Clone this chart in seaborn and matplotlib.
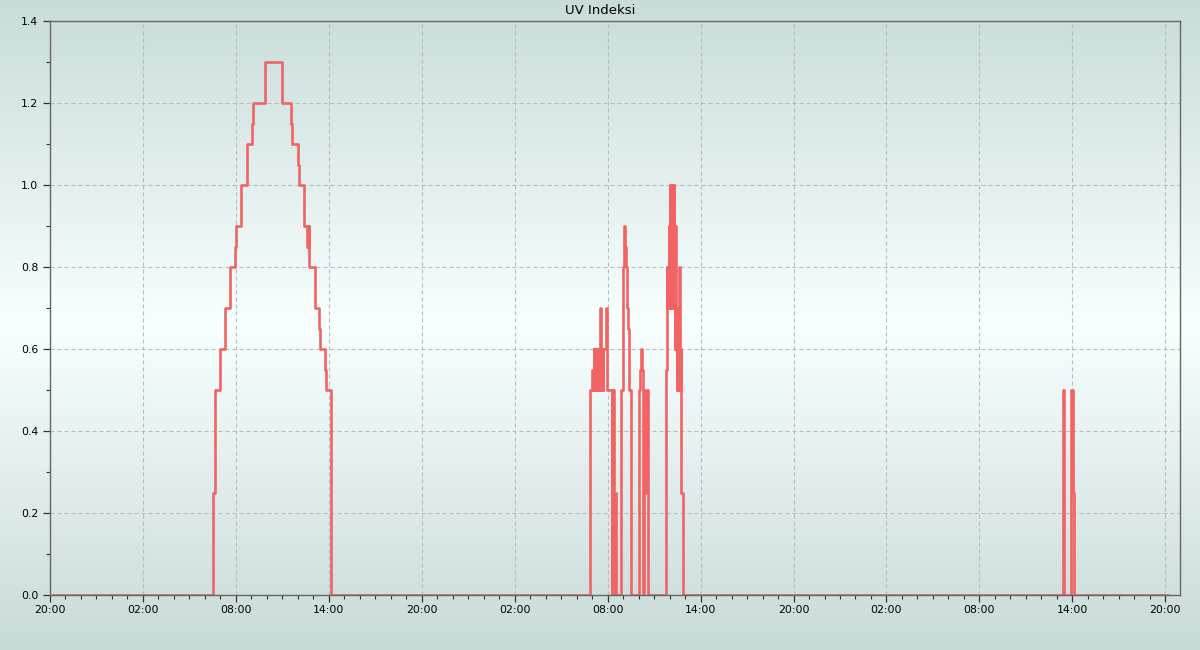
import numpy as np
import pandas as pd
import seaborn as sns
import matplotlib.pyplot as plt
import matplotlib.dates as mdates
from matplotlib.ticker import MultipleLocator
from matplotlib.colors import LinearSegmentedColormap

# keep every tiny step of the noisy parts visible
plt.rcParams["path.simplify"] = False

# UV index readings, stored as change points (hours after the 20:00 start, value)
start = pd.Timestamp("2024-06-03 20:00")

day1_hours = [0.20, 10.55, 10.62, 10.97, 11.30, 11.62, 11.94, 12.00, 12.31, 12.70,
              13.06, 13.13, 13.88, 14.96, 15.56, 15.62, 15.99, 16.05, 16.40, 16.60,
              16.63, 16.66, 16.69, 16.74, 17.08, 17.38, 17.45, 17.73, 17.80, 18.12]
day1_uv = [0, 0.25, 0.5, 0.6, 0.7, 0.8, 0.85, 0.9, 1.0, 1.1,
           1.15, 1.2, 1.3, 1.2, 1.15, 1.1, 1.05, 1.0, 0.9, 0.85,
           0.9, 0.85, 0.9, 0.8, 0.7, 0.65, 0.6, 0.55, 0.5, 0]

day2_hours = [34.89, 34.99, 35.07, 35.09, 35.11, 35.13, 35.15, 35.17, 35.19, 35.21,
              35.23, 35.25, 35.27, 35.29, 35.31, 35.33, 35.35, 35.37, 35.39, 35.41,
              35.43, 35.45, 35.47, 35.50, 35.57, 35.59, 35.61, 35.63, 35.65, 35.67,
              35.69, 35.72, 35.87, 35.93, 35.98, 36.26, 36.28, 36.30, 36.32, 36.34,
              36.36, 36.38, 36.41, 36.52, 36.88, 36.96, 37.01, 37.07, 37.15, 37.20,
              37.26, 37.32, 37.37, 37.50, 38.04, 38.09, 38.13, 38.20, 38.26, 38.30,
              38.33, 38.36, 38.46, 38.58, 39.77, 39.83, 39.85, 39.87, 39.89, 39.91,
              39.93, 39.96, 39.98, 40.00, 40.03, 40.05, 40.07, 40.09, 40.11, 40.13,
              40.15, 40.17, 40.19, 40.21, 40.23, 40.25, 40.27, 40.29, 40.31, 40.33,
              40.35, 40.37, 40.39, 40.41, 40.43, 40.45, 40.48, 40.50, 40.52, 40.54,
              40.56, 40.58, 40.61, 40.68, 40.70, 40.72, 40.74, 40.88]
day2_uv = [0.5, 0.55, 0.5, 0.6, 0.5, 0.6, 0.5, 0.6, 0.5, 0.6,
           0.5, 0.6, 0.5, 0.6, 0.5, 0.6, 0.5, 0.6, 0.5, 0.6,
           0.5, 0.6, 0.5, 0.7, 0.5, 0.6, 0.5, 0.6, 0.5, 0.6,
           0.5, 0.6, 0.7, 0.65, 0.5, 0, 0.5, 0, 0.5, 0,
           0.5, 0, 0.25, 0, 0.5, 0.65, 0.8, 0.9, 0.85, 0.8,
           0.7, 0.65, 0.5, 0, 0.5, 0.55, 0.6, 0.55, 0.5, 0,
           0.5, 0.25, 0.5, 0, 0.55, 0.8, 0.7, 0.8, 0.7, 0.8,
           0.7, 0.9, 0.7, 0.9, 1.0, 0.8, 1.0, 0.7, 1.0, 0.9,
           1.0, 0.7, 1.0, 0.8, 1.0, 0.7, 1.0, 0.8, 0.9, 0.6,
           0.7, 0.9, 0.6, 0.7, 0.6, 0.7, 0.5, 0.6, 0.5, 0.6,
           0.5, 0.6, 0.8, 0.6, 0.5, 0.6, 0.25, 0]

day3_hours = [65.40, 65.44, 65.93, 66.06, 66.12, 72.18]
day3_uv = [0.5, 0, 0.5, 0.25, 0, 0]

hours = day1_hours + day2_hours + day3_hours
uv = day1_uv + day2_uv + day3_uv
df = pd.DataFrame({"time": start + pd.to_timedelta(hours, unit="h"), "uv": uv})

fig = plt.figure(figsize=(12, 6.5), dpi=100)

# soft vertical gradient behind everything
bg = fig.add_axes([0, 0, 1, 1], zorder=-10)
grad = LinearSegmentedColormap.from_list("bg", ["#c8dcd9", "#f8ffff", "#c8dad8"])
bg.imshow(np.linspace(0, 1, 256).reshape(-1, 1), cmap=grad, aspect="auto",
          extent=[0, 1, 0, 1])
bg.axis("off")

ax = fig.add_axes([50 / 1200, 55 / 650, 1130 / 1200, 574 / 650])
ax.set_facecolor("none")

sns.lineplot(data=df, x="time", y="uv", ax=ax, color="#f26363", lw=1.9,
             drawstyle="steps-post", estimator=None, legend=False)

ax.set_xlim(start, start + pd.Timedelta(hours=72.95))
ax.set_ylim(0, 1.4)
ax.xaxis.set_major_locator(mdates.HourLocator(byhour=[2, 8, 14, 20]))
ax.xaxis.set_minor_locator(mdates.HourLocator())
ax.xaxis.set_major_formatter(mdates.DateFormatter("%H:%M"))
ax.yaxis.set_major_locator(MultipleLocator(0.2))
ax.yaxis.set_minor_locator(MultipleLocator(0.1))

ax.grid(which="major", linestyle=(0, (3.6, 2.7)), color="#bbbbbb", lw=0.8)
ax.set_xlabel("")
ax.set_ylabel("")
ax.tick_params(which="major", length=5, width=0.9, color="#333333", labelsize=7.8)
ax.tick_params(which="minor", length=3, width=0.8, color="#333333")
ax.tick_params(axis="x", pad=2.5)
for s in ax.spines.values():
    s.set_color("#666666")
    s.set_linewidth(1)

fig.text(0.5, 1 - 10 / 650, "UV Indeksi", ha="center", va="center", fontsize=9.5)

fig.savefig("out.png", dpi=100)
